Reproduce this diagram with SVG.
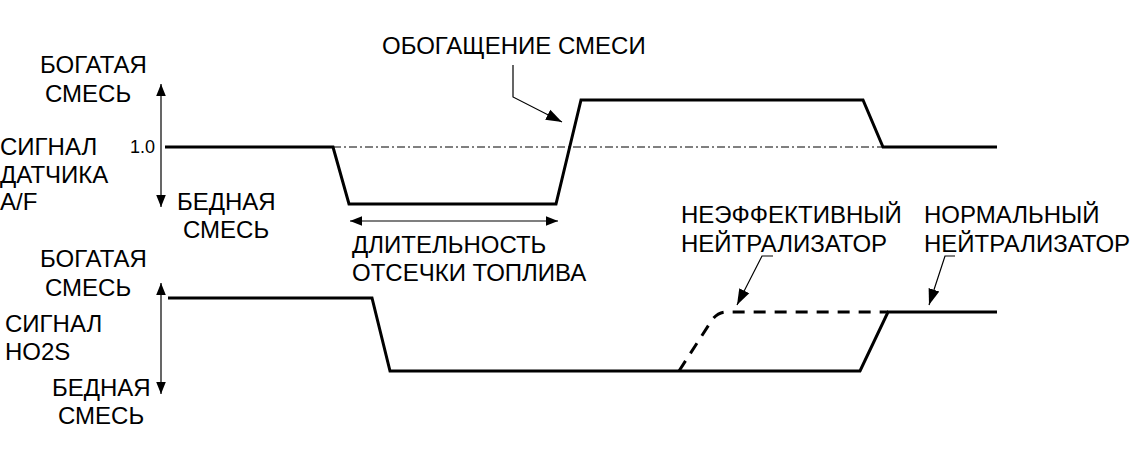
<svg xmlns="http://www.w3.org/2000/svg" width="1140" height="457" viewBox="0 0 1140 457">
<style>
text{font-family:"Liberation Sans",Arial,sans-serif;font-size:24px;fill:#000}
text.small{font-size:18px}
.sig{fill:none;stroke:#000;stroke-width:3}
.thin{fill:none;stroke:#000;stroke-width:1.2}
</style>
<defs>
<marker id="ah" viewBox="0 0 10 10" refX="10" refY="5" markerWidth="12" markerHeight="12" markerUnits="userSpaceOnUse" orient="auto"><path d="M0,1 L10,5 L0,9 Z" fill="#000"/></marker>
<marker id="ab" viewBox="0 0 10 10" refX="10" refY="5" markerWidth="16" markerHeight="16" markerUnits="userSpaceOnUse" orient="auto"><path d="M0,1.5 L10,5 L0,8.5 Z" fill="#000"/></marker>
</defs>
<rect width="1140" height="457" fill="#fff"/>
<g id="labels">
<text x="40" y="73">БОГАТАЯ</text><text x="45" y="102">СМЕСЬ</text>
<text x="0" y="155">СИГНАЛ</text><text x="0" y="183">ДАТЧИКА</text><text x="0" y="210">A/F</text>
<text class="small" x="130" y="153">1.0</text>
<text x="177" y="210">БЕДНАЯ</text><text x="183" y="238">СМЕСЬ</text>
<text x="382" y="54">ОБОГАЩЕНИЕ СМЕСИ</text>
<text x="352" y="253">ДЛИТЕЛЬНОСТЬ</text><text x="352" y="281">ОТСЕЧКИ ТОПЛИВА</text>
<text x="681" y="223">НЕЭФФЕКТИВНЫЙ</text><text x="681" y="252">НЕЙТРАЛИЗАТОР</text>
<text x="924" y="223">НОРМАЛЬНЫЙ</text><text x="924" y="252">НЕЙТРАЛИЗАТОР</text>
<text x="40" y="267">БОГАТАЯ</text><text x="45" y="296">СМЕСЬ</text>
<text x="5" y="332">СИГНАЛ</text><text x="5" y="360">HO2S</text>
<text x="52" y="396">БЕДНАЯ</text><text x="58" y="424">СМЕСЬ</text>
</g>
<g id="connectors">
<line x1="161" y1="148" x2="161" y2="84" class="thin" marker-end="url(#ah)"/>
<line x1="161" y1="148" x2="161" y2="207" class="thin" marker-end="url(#ah)"/>
<line x1="161" y1="340" x2="161" y2="283" class="thin" marker-end="url(#ah)"/>
<line x1="161" y1="340" x2="161" y2="394" class="thin" marker-end="url(#ah)"/>
<line x1="450" y1="221" x2="350" y2="221" class="thin" marker-end="url(#ah)"/>
<line x1="450" y1="221" x2="558" y2="221" class="thin" marker-end="url(#ah)"/>
<line x1="333" y1="147" x2="883" y2="147" stroke="#000" stroke-width="1" stroke-dasharray="8,3,2,3"/>
<polyline points="513,65 513,97 562,122" class="thin" marker-end="url(#ab)"/>
<polyline points="773,256 762,256 737,305" class="thin" marker-end="url(#ab)"/>
<polyline points="955,256 945,256 929,305" class="thin" marker-end="url(#ab)"/>
</g>
<g id="signal-af"><polyline class="sig" points="165,147 333,147 349,204 556,204 581,100 863,100 883,147 997,147"/></g>
<g id="signal-ho2s">
<polyline class="sig" points="168,298 372,298 390,371 860,371 888,312 997,312"/>
<path class="sig" d="M679,371 L712,320 Q718,312 726,312 L888,312" stroke-dasharray="12,9"/>
</g>
</svg>
